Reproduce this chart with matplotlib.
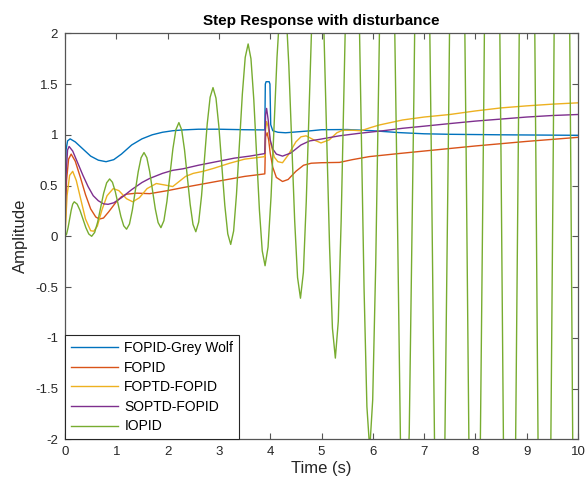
import matplotlib
matplotlib.use("Agg")
import matplotlib.pyplot as plt

plt.rcParams['font.family'] = ['Liberation Sans', 'DejaVu Sans']
plt.rcParams['axes.unicode_minus'] = False

labels = ['FOPID-Grey Wolf', 'FOPID', 'FOPTD-FOPID', 'SOPTD-FOPID', 'IOPID']
colors = ['#0072BD', '#D95319', '#EDB120', '#7E2F8E', '#77AC30']

t_gwo = [0, 0.02, 0.05, 0.1, 0.2, 0.35, 0.5, 0.65, 0.8, 0.95, 1.1, 1.3, 1.5, 1.7, 1.9, 2.1,
         2.3, 2.6, 3.0, 3.5, 3.895, 3.905, 3.92, 3.98, 3.995, 4.01, 4.05, 4.15, 4.3, 4.5,
         4.8, 5.0, 5.5, 6.0, 6.5, 7.0, 7.5, 8.5, 10.0]
y_gwo = [0, 0.85, 0.94, 0.96, 0.93, 0.86, 0.79, 0.75, 0.735, 0.755, 0.81, 0.9, 0.96, 1.0,
         1.025, 1.04, 1.048, 1.055, 1.055, 1.05, 1.048, 1.50, 1.523, 1.523, 1.50, 1.10,
         1.04, 1.025, 1.02, 1.028, 1.04, 1.05, 1.052, 1.04, 1.022, 1.01, 1.005, 1.0, 0.995]

t_fopid = [0, 0.03, 0.07, 0.12, 0.2, 0.3, 0.4, 0.5, 0.6, 0.67, 0.75, 0.85, 1.0, 1.1, 1.2,
           1.4, 1.65, 2.0, 2.3, 2.95, 3.5, 3.895, 3.91, 3.94, 3.97, 4.0, 4.05, 4.12, 4.24,
           4.35, 4.5, 4.65, 4.8, 5.0, 5.35, 5.6, 5.93, 6.5, 7.0, 7.5, 8.0, 9.0, 10.0]
y_fopid = [0, 0.55, 0.76, 0.81, 0.74, 0.58, 0.41, 0.27, 0.19, 0.17, 0.18, 0.24, 0.34, 0.39,
           0.415, 0.425, 0.42, 0.45, 0.48, 0.54, 0.59, 0.615, 0.98, 1.02, 0.95, 0.82, 0.68,
           0.58, 0.54, 0.56, 0.64, 0.70, 0.72, 0.725, 0.728, 0.755, 0.785, 0.815, 0.84,
           0.865, 0.89, 0.935, 0.975]

t_foptd = [0, 0.04, 0.09, 0.15, 0.22, 0.3, 0.4, 0.5, 0.56, 0.63, 0.72, 0.82, 0.94, 1.05,
           1.2, 1.32, 1.45, 1.6, 1.78, 1.95, 2.1, 2.2, 2.35, 2.5, 2.69, 2.9, 3.21, 3.5,
           3.895, 3.91, 3.93, 3.96, 4.0, 4.08, 4.15, 4.24, 4.35, 4.5, 4.6, 4.7, 4.85, 4.99,
           5.15, 5.3, 5.41, 5.6, 5.77, 5.95, 6.13, 6.58, 7.0, 7.5, 8.0, 8.5, 9.0, 9.5, 10.0]
y_foptd = [0, 0.4, 0.6, 0.64, 0.55, 0.38, 0.17, 0.055, 0.05, 0.1, 0.26, 0.4, 0.47, 0.45,
           0.37, 0.34, 0.38, 0.47, 0.52, 0.505, 0.49, 0.53, 0.59, 0.62, 0.64, 0.67, 0.72,
           0.76, 0.785, 1.05, 1.13, 1.08, 0.93, 0.78, 0.735, 0.725, 0.8, 0.93, 0.98, 0.99,
           0.95, 0.92, 0.95, 1.02, 1.045, 1.045, 1.04, 1.07, 1.097, 1.146, 1.175, 1.2, 1.235,
           1.265, 1.285, 1.302, 1.315]

t_soptd = [0, 0.02, 0.05, 0.08, 0.15, 0.25, 0.35, 0.45, 0.55, 0.65, 0.75, 0.84, 0.95, 1.1,
           1.3, 1.5, 1.65, 1.9, 2.1, 2.3, 2.6, 2.95, 3.3, 3.6, 3.895, 3.91, 3.93, 3.96, 4.0,
           4.05, 4.12, 4.24, 4.4, 4.6, 4.77, 4.96, 5.35, 5.74, 6.2, 6.58, 7.0, 7.49, 8.0,
           8.5, 9.0, 9.5, 10.0]
y_soptd = [0, 0.6, 0.85, 0.885, 0.84, 0.72, 0.6, 0.49, 0.4, 0.35, 0.32, 0.315, 0.33, 0.38,
           0.46, 0.53, 0.57, 0.62, 0.65, 0.665, 0.7, 0.735, 0.77, 0.79, 0.815, 1.2, 1.26,
           1.15, 0.95, 0.86, 0.81, 0.79, 0.82, 0.9, 0.94, 0.955, 0.99, 1.015, 1.04, 1.064,
           1.085, 1.11, 1.135, 1.155, 1.175, 1.19, 1.2]

t_iopid = [0, 0.03, 0.06, 0.09, 0.12, 0.15, 0.18,
           0.237, 0.293, 0.35, 0.407, 0.463, 0.52,
           0.578, 0.637, 0.695, 0.753, 0.812, 0.87,
           0.925, 0.98, 1.035, 1.09, 1.145, 1.2,
           1.257, 1.313, 1.37, 1.427, 1.483, 1.54,
           1.595, 1.65, 1.705, 1.76, 1.815, 1.87,
           1.928, 1.987, 2.045, 2.103, 2.162, 2.22,
           2.275, 2.33, 2.385, 2.44, 2.495, 2.55,
           2.606, 2.662, 2.718, 2.773, 2.829, 2.885,
           2.943, 3.0, 3.058, 3.115, 3.173, 3.23,
           3.287, 3.343, 3.40, 3.457, 3.513, 3.57,
           3.625, 3.68, 3.735, 3.79, 3.845, 3.9,
           3.958, 4.017, 4.075, 4.133, 4.192, 4.25,
           4.307, 4.363, 4.42, 4.477, 4.533, 4.59,
           4.647, 4.703, 4.76, 4.817, 4.873, 4.93,
           4.987, 5.043, 5.10, 5.157, 5.213, 5.27,
           5.327, 5.383, 5.44, 5.497, 5.553, 5.61,
           5.665, 5.72, 5.775, 5.83, 5.885, 5.94,
           5.998, 6.057, 6.115, 6.173, 6.232, 6.29,
           6.37, 6.46, 6.54, 6.62, 6.71, 6.80, 6.88, 6.97, 7.05, 7.14, 7.22, 7.30,
           7.39, 7.48, 7.56, 7.65, 7.73, 7.82, 7.90, 7.98, 8.07, 8.16, 8.24, 8.33,
           8.41, 8.50, 8.58, 8.66, 8.75, 8.84, 8.92, 9.01, 9.09, 9.18, 9.26, 9.34,
           9.43, 9.52, 9.60, 9.69, 9.77, 9.86, 9.94, 10.02]
y_iopid = [0.0, 0.02, 0.085, 0.17, 0.255, 0.317, 0.34,
           0.317, 0.255, 0.17, 0.085, 0.023, 0.0,
           0.038, 0.141, 0.283, 0.424, 0.527, 0.565,
           0.532, 0.441, 0.318, 0.194, 0.103, 0.07,
           0.121, 0.259, 0.448, 0.636, 0.774, 0.825,
           0.775, 0.64, 0.455, 0.27, 0.135, 0.085,
           0.154, 0.344, 0.603, 0.861, 1.051, 1.12,
           1.048, 0.851, 0.583, 0.314, 0.117, 0.045,
           0.14, 0.40, 0.755, 1.11, 1.37, 1.465,
           1.361, 1.079, 0.693, 0.306, 0.024, -0.08,
           0.052, 0.414, 0.908, 1.401, 1.763, 1.895,
           1.749, 1.349, 0.803, 0.256, -0.144, -0.29,
           -0.106, 0.395, 1.08, 1.765, 2.266, 2.45,
           2.245, 1.685, 0.92, 0.155, -0.405, -0.61,
           -0.355, 0.343, 1.295, 2.248, 2.945, 3.2,
           2.905, 2.1, 1.0, -0.1, -0.905, -1.2,
           -0.838, 0.15, 1.5, 2.85, 3.838, 4.2,
           3.778, 2.625, 1.05, -0.525, -1.678, -2.1,
           -1.611, -0.275, 1.55, 3.375, 4.711, 5.2,
           3.96, 0.95, -2.06, -3.3, -1.94, 1.35, 4.64, 6.0, 4.50, 0.85, -2.80, -4.3,
           -2.68, 1.25, 5.18, 6.8, 5.05, 0.8, -3.45, -5.2, -3.35, 1.15, 5.65, 7.5,
           5.53, 0.75, -4.03, -6.0, -3.93, 1.1, 6.13, 8.2, 6.01, 0.7, -4.61, -6.8,
           -4.52, 1.0, 6.52, 8.8, 6.42, 0.65, -5.12, -7.5]

x_ticks = list(range(0, 11))
y_ticks = [-2, -1.5, -1, -0.5, 0, 0.5, 1, 1.5, 2]
y_ticklabels = ['-2', '-1.5', '-1', '-0.5', '0', '0.5', '1', '1.5', '2']

series = [(t_gwo, y_gwo), (t_fopid, y_fopid), (t_foptd, y_foptd),
          (t_soptd, y_soptd), (t_iopid, y_iopid)]

fig = plt.figure(figsize=(5.88, 4.88), dpi=100)
ax = fig.add_axes([65/588, 1 - 439.3/488, (578 - 65)/588, (439.3 - 33.3)/488])

for (tt, yy), c, lab in zip(series, colors, labels):
    ax.plot(tt, yy, color=c, lw=1.0, label=lab)

ax.set_xlim(0, 10)
ax.set_ylim(-2, 2)
ax.set_xticks(x_ticks)
ax.set_yticks(y_ticks)
ax.set_yticklabels(y_ticklabels)

axcol = '#262626'
for s in ax.spines.values():
    s.set_color('#555555')
    s.set_linewidth(0.9)
ax.tick_params(direction='in', length=4, width=0.8, color='#555555',
               labelcolor=axcol, labelsize=9.5, top=True, right=True, pad=5)

ax.set_title('Step Response with disturbance', fontsize=11, fontweight='bold',
             color='black', pad=6)
ax.set_xlabel('Time (s)', fontsize=12, color=axcol, labelpad=2)
ax.set_ylabel('Amplitude', fontsize=12, color=axcol, labelpad=5)

leg = ax.legend(loc='lower left', bbox_to_anchor=(0, 0), borderaxespad=0,
                fontsize=10, handlelength=3.4, handletextpad=0.45, labelspacing=0.4,
                borderpad=0.42, fancybox=False, framealpha=1, edgecolor='#262626')
leg.get_frame().set_linewidth(0.8)
for txt in leg.get_texts():
    txt.set_color('black')

fig.savefig('out.png', dpi=100)
